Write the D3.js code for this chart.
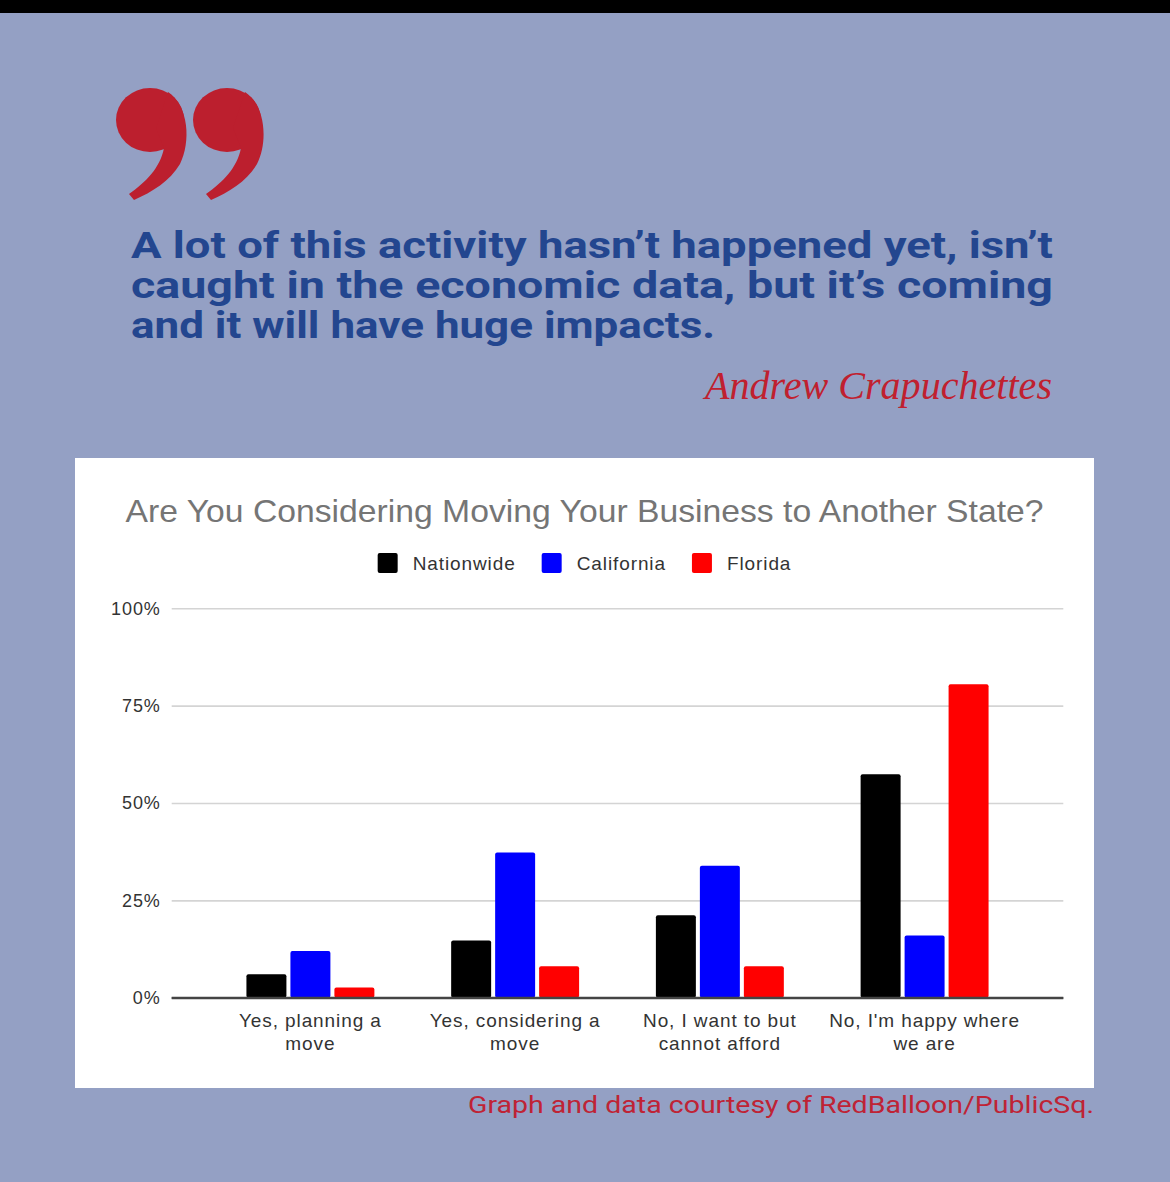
<!DOCTYPE html>
<html>
<head>
<meta charset="utf-8">
<script src="https://cdn.jsdelivr.net/npm/d3@7"></script>
<style>
  body { margin: 0; background: #94a0c4; }
  svg { display: block; }
</style>
</head>
<body>
<div id="chart"></div>
<script>
// data
const categories = ["Yes, planning a move", "Yes, considering a move", "No, I want to but cannot afford", "No, I'm happy where we are"];
const categoryLines = [["Yes, planning a", "move"], ["Yes, considering a", "move"], ["No, I want to but", "cannot afford"], ["No, I'm happy where", "we are"]];
const series = ["Nationwide", "California", "Florida"];
const seriesColors = ["#000000", "#0000ff", "#ff0000"];
const nationwide = [6, 14.7, 21.2, 57.4];
const california = [12, 37.3, 33.9, 16];
const florida = [2.6, 8.1, 8.1, 80.5];
const yTicks = [0, 25, 50, 75, 100];

const quoteLines = [
    "A lot of this activity hasn\u2019t happened yet, isn\u2019t",
    "caught in the economic data, but it\u2019s coming",
    "and it will have huge impacts."
];
const author = "Andrew Crapuchettes";
const title = "Are You Considering Moving Your Business to Another State?";
const footer = "Graph and data courtesy of RedBalloon/PublicSq.";

const W = 1170, H = 1182;
const svg = d3.select("#chart").append("svg")
    .attr("width", W)
    .attr("height", H);

svg.append("rect").attr("width", W).attr("height", H).attr("fill", "#94a0c4");
svg.append("rect").attr("width", W).attr("height", 13).attr("fill", "#000");

// big red quote marks
const quoteRed = "#bc1f2e";
[116, 193].forEach(x0 => {
    const g = svg.append("g").attr("transform", `translate(${x0},88)`).attr("fill", quoteRed);
    g.append("ellipse").attr("cx", 34).attr("cy", 32).attr("rx", 34).attr("ry", 32);
    g.append("path")
        .attr("d", "M52,4 C73,18 75,54 64,76 C54,93 36,104 18,112 L13,106 C30,94 44,80 48,60 L40,40 Z");
});

// quote
const quoteWidths = [922, 922, 584];
svg.append("g").selectAll("text")
    .data(quoteLines)
    .join("text")
    .attr("x", 131)
    .attr("y", (d, i) => 258 + i * 40)
    .attr("font-family", "Roboto, 'Open Sans', sans-serif")
    .attr("font-weight", 700)
    .attr("font-size", 37)
    .attr("fill", "#23468f")
    .attr("textLength", (d, i) => quoteWidths[i])
    .attr("lengthAdjust", "spacingAndGlyphs")
    .text(d => d);

svg.append("text")
    .attr("x", 1052)
    .attr("y", 399)
    .attr("text-anchor", "end")
    .attr("font-family", "'Liberation Serif', serif")
    .attr("font-style", "italic")
    .attr("font-size", 40)
    .attr("fill", "#c0202f")
    .attr("textLength", 347)
    .attr("lengthAdjust", "spacingAndGlyphs")
    .text(author);

// chart card
const card = { x: 75, y: 458, w: 1019, h: 630 };
svg.append("rect")
    .attr("x", card.x).attr("y", card.y)
    .attr("width", card.w).attr("height", card.h)
    .attr("fill", "#fff");

const midX = card.x + card.w / 2;

svg.append("text")
    .attr("x", midX)
    .attr("y", 522)
    .attr("text-anchor", "middle")
    .attr("font-family", "'Liberation Sans', Arial, sans-serif")
    .attr("font-size", 32)
    .attr("fill", "#757575")
    .attr("textLength", 918)
    .attr("lengthAdjust", "spacingAndGlyphs")
    .text(title);

// legend, laid out from measured text widths and centred
const legend = svg.append("g");
const items = legend.selectAll("g")
    .data(series)
    .join("g");
items.append("rect")
    .attr("y", 553)
    .attr("width", 20)
    .attr("height", 20)
    .attr("rx", 2)
    .attr("fill", (d, i) => seriesColors[i]);
items.append("text")
    .attr("x", 35)
    .attr("y", 570)
    .attr("font-family", "'Liberation Sans', Arial, sans-serif")
    .attr("font-size", 19)
    .attr("letter-spacing", 0.9)
    .attr("fill", "#333")
    .text(d => d);
let lx = 0;
items.each(function () {
    const w = 35 + d3.select(this).select("text").node().getComputedTextLength();
    d3.select(this).attr("transform", `translate(${lx},0)`);
    lx += w + 26;
});
const legendW = lx - 26;
legend.attr("transform", `translate(${midX - legendW / 2},0)`);

// plot
const plotLeft = 171.7, plotRight = 1063.3;
const y = d3.scaleLinear([0, 100], [997.7, 608.3]);
const x0 = d3.scaleBand(categories, [plotLeft, plotRight])
    .paddingInner(0.375)
    .paddingOuter(0.365);
const x1 = d3.scaleBand(series, [0, x0.bandwidth()])
    .paddingInner(4 / 44);

const yAxis = svg.append("g")
    .attr("transform", `translate(${plotLeft},0)`)
    .call(d3.axisLeft(y)
        .tickValues(yTicks)
        .tickSize(-(plotRight - plotLeft))
        .tickPadding(11)
        .tickFormat(d => d + "%"));
yAxis.select(".domain").remove();
yAxis.selectAll(".tick line")
    .attr("stroke", d => d === 0 ? "#444" : "#d4d4d4")
    .attr("stroke-width", d => d === 0 ? 2 : 1.6);
yAxis.selectAll(".tick text")
    .attr("font-family", "'Liberation Sans', Arial, sans-serif")
    .attr("font-size", 18)
    .attr("letter-spacing", 0.9)
    .attr("fill", "#333");

const table = categories.map((c, i) => ({
    category: c,
    values: [nationwide[i], california[i], florida[i]]
}));

svg.append("g").selectAll("g")
    .data(table)
    .join("g")
    .attr("transform", d => `translate(${x0(d.category)},0)`)
    .selectAll("rect")
    .data(d => d.values.map((v, i) => ({ key: series[i], value: v, color: seriesColors[i] })))
    .join("rect")
    .attr("x", d => x1(d.key))
    .attr("y", d => y(d.value))
    .attr("width", x1.bandwidth())
    .attr("height", d => y(0) - y(d.value))
    .attr("rx", 2)
    .attr("fill", d => d.color);

// redraw the baseline over the bars
svg.append("line")
    .attr("x1", plotLeft).attr("x2", plotRight)
    .attr("y1", y(0)).attr("y2", y(0))
    .attr("stroke", "#444")
    .attr("stroke-width", 2);

// category labels
svg.append("g").selectAll("text")
    .data(categories)
    .join("text")
    .attr("x", d => x0(d) + x0.bandwidth() / 2)
    .attr("y", 1027)
    .attr("text-anchor", "middle")
    .attr("font-family", "'Liberation Sans', Arial, sans-serif")
    .attr("font-size", 19)
    .attr("letter-spacing", 0.9)
    .attr("fill", "#333")
    .each(function (d, i) {
        const t = d3.select(this);
        categoryLines[i].forEach((line, j) => {
            t.append("tspan")
                .attr("x", x0(d) + x0.bandwidth() / 2)
                .attr("dy", j === 0 ? 0 : 22.5)
                .text(line);
        });
    });

svg.append("text")
    .attr("x", 1094)
    .attr("y", 1113)
    .attr("text-anchor", "end")
    .attr("font-family", "Roboto, 'Open Sans', sans-serif")
    .attr("font-size", 24)
    .attr("fill", "#bf2335")
    .attr("textLength", 626)
    .attr("lengthAdjust", "spacingAndGlyphs")
    .text(footer);
</script>
</body>
</html>
